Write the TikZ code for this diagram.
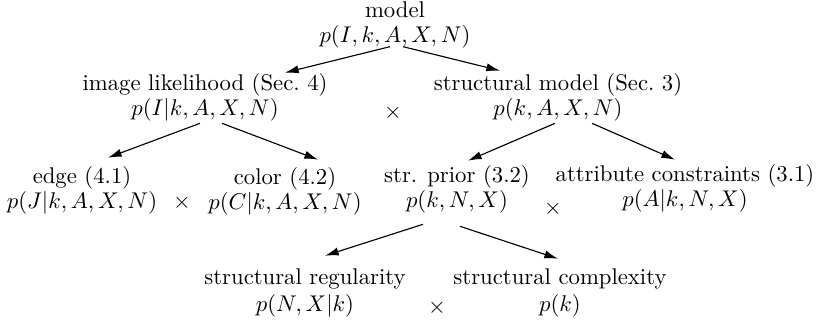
\documentclass[tikz,border=0pt]{standalone}
\usetikzlibrary{arrows.meta,calc}
\begin{document}
\begin{tikzpicture}[x=0.44pt,y=-0.44pt,
  lbl/.style={align=center, inner sep=0pt},
  op/.style={inner sep=0pt},
  arr/.style={-{Latex[length=6pt,width=3.6pt]}, line width=0.5pt}]
\useasboundingbox (0,0) rectangle (817,320);
\node[lbl] (model) at (395,25) {model\\[-1pt]$p(I,k,A,X,N)$};
\node[lbl] (il) at (205,97) {image likelihood (Sec.~4)\\[-1pt]$p(I|k,A,X,N)$};
\node[lbl] (sm) at (558,97) {structural model (Sec.~3)\\[-1pt]$p(k,A,X,N)$};
\node[lbl] (edge) at (82,190) {edge (4.1)\\[-1pt]$p(J|k,A,X,N)$};
\node[lbl] (color) at (285,191) {color (4.2)\\[-1pt]$p(C|k,A,X,N)$};
\node[lbl] (prior) at (457,189) {str. prior (3.2)\\[-1pt]$p(k,N,X)$};
\node[lbl] (attr) at (685,188) {attribute constraints (3.1)\\[-1pt]$p(A|k,N,X)$};
\node[lbl] (reg) at (305,293) {structural regularity\\[-0.5pt]$p(N,X|k)$};
\node[lbl] (comp) at (560,293) {structural complexity\\[-0.5pt]$p(k)$};
\node[op] (x1) at (393,113) {$\times$};
\node[op] (x2) at (182,203) {$\times$};
\node[op] (x3) at (553,209) {$\times$};
\node[op] (x4) at (437,308) {$\times$};
\draw[arr] ($(model.south)+(-5,-2)$) -- ($(il.north)+(80,0)$);
\draw[arr] ($(model.south)+(8,-2)$) -- ($(sm.north)+(-58,-2)$);
\draw[arr] ($(il.south)+(-5,2)$) -- ($(edge.north)+(26,-8)$);
\draw[arr] ($(il.south)+(17,2)$) -- ($(color.north)+(33,-7)$);
\draw[arr] ($(sm.south)+(-3,2)$) -- ($(prior.north)+(11,-4)$);
\draw[arr] ($(sm.south)+(34,2)$) -- ($(attr.north)+(-10,-4)$);
\draw[arr] ($(prior.south)+(-34,11)$) -- ($(reg.north)+(20,-13)$);
\draw[arr] ($(prior.south)+(3,13)$) -- ($(comp.north)+(-2,-10)$);
\end{tikzpicture}
\end{document}
